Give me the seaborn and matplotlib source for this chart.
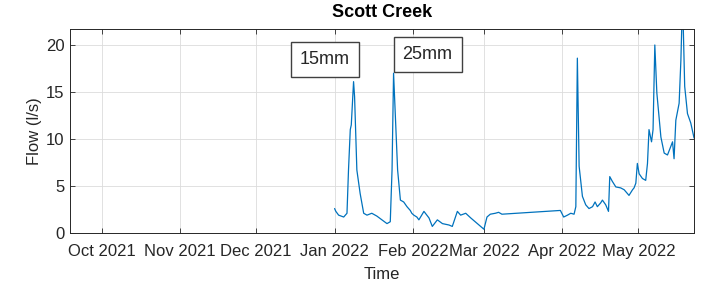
import pandas as pd
import numpy as np
import matplotlib
matplotlib.use('Agg')
import matplotlib.pyplot as plt
import matplotlib.dates as mdates
import seaborn as sns

# Flow record, days counted from 1 Jan 2022
day_offset = [0.0, 0.5, 1.6, 3.6, 4.9, 5.5, 6.2, 6.6, 7.5, 7.9, 8.8, 10.1, 11.5, 12.8,
              14.7, 16.7, 18.7, 20.7, 22.0, 22.7, 23.3, 23.8, 24.9, 26.0, 27.3, 28.6,
              29.9, 30.5, 31.3, 32.5, 33.3, 35.3, 37.3, 38.6, 40.6, 42.6, 45.2, 46.5,
              48.5, 49.8, 51.8, 53.8, 56.4, 59.0, 60.2, 61.5, 63.5, 64.8, 66.1, 89.2,
              90.5, 92.0, 93.3, 94.6, 95.3, 95.9, 96.6, 97.9, 99.2, 100.5, 101.9, 102.9,
              103.8, 105.1, 105.8, 107.1, 108.2, 108.7, 109.7, 111.1, 113.0, 114.4,
              116.3, 117.7, 118.3, 119.0, 119.6, 120.3, 121.6, 122.9, 123.6, 124.2,
              125.2, 125.8, 126.5, 127.3, 128.9, 130.2, 131.5, 132.8, 133.5, 134.1,
              134.8, 136.1, 136.8, 137.2, 137.7, 138.3, 139.4, 140.7, 142.0]
flow = [2.6, 2.3, 1.9, 1.7, 2.1, 6.7, 11.0, 11.5, 16.1, 14.5, 6.7, 4.2, 2.1, 1.9,
        2.1, 1.8, 1.4, 1.0, 1.2, 6.7, 17.0, 13.8, 6.7, 3.5, 3.3, 2.8,
        2.4, 2.1, 1.9, 1.7, 1.4, 2.3, 1.6, 0.7, 1.4, 1.0, 0.85, 0.7,
        2.3, 1.9, 2.1, 1.6, 1.0, 0.4, 1.7, 2.0, 2.1, 2.2, 2.0, 2.4,
        1.7, 1.9, 2.1, 2.0, 2.8, 18.6, 7.1, 3.9, 3.0, 2.6, 2.8, 3.3,
        2.8, 3.2, 3.5, 3.0, 2.3, 6.0, 5.5, 4.9, 4.8, 4.6,
        4.0, 4.6, 4.8, 5.3, 7.4, 6.3, 5.8, 5.6, 7.4, 11.0,
        9.7, 11.0, 20.0, 14.9, 10.2, 8.5, 8.3, 9.2, 9.7, 7.9,
        12.0, 13.8, 18.4, 22.5, 22.3, 15.6, 12.7, 11.7, 10.1]

rain_labels = ['15mm', '25mm']

df = pd.DataFrame({
    'Time': pd.Timestamp('2022-01-01') + pd.to_timedelta(day_offset, unit='D'),
    'Flow': flow,
})

sns.set_theme(style='ticks')
plt.rcParams['font.family'] = ['Liberation Sans', 'DejaVu Sans']
text_col = '#262626'

fig = plt.figure(figsize=(7.01, 2.86), dpi=100)
ax = fig.add_axes([0.0999, 0.1853, 0.8902, 0.7133])

sns.lineplot(data=df, x='Time', y='Flow', ax=ax, color='#0072BD',
             linewidth=0.9, estimator=None)

ax.set_xlim(pd.Timestamp('2021-09-18 12:00'), df['Time'].iloc[-1])
ax.set_ylim(0, 21.7)
ax.set_yticks([0, 5, 10, 15, 20])
ax.xaxis.set_major_locator(mdates.MonthLocator())
ax.xaxis.set_major_formatter(mdates.DateFormatter('%b %Y'))

ax.grid(True, color='#dcdcdc', linewidth=0.6)
ax.tick_params(direction='in', length=3.5, width=0.6, top=True, right=True,
               labelsize=12, colors=text_col)
ax.tick_params(axis='x', pad=8)
ax.tick_params(axis='y', pad=4)
for s in ax.spines.values():
    s.set_visible(True)
    s.set_linewidth(0.7)
    s.set_color(text_col)

ax.set_title('Scott Creek', fontsize=13, fontweight='bold', color='black', pad=9)
ax.set_xlabel('Time', fontsize=12, color=text_col, labelpad=6)
ax.set_ylabel('Flow (l/s)', fontsize=12, color=text_col, labelpad=3)

box = dict(boxstyle='square,pad=0.5', facecolor='white', edgecolor='#404040', linewidth=1.0)
ax.text(0.4087, 0.850, rain_labels[0], transform=ax.transAxes, ha='center', va='center',
        fontsize=13, color=text_col, bbox=box)
ax.text(0.573, 0.876, rain_labels[1], transform=ax.transAxes, ha='center', va='center',
        fontsize=13, color=text_col, bbox=box)

fig.savefig('out.png', dpi=100)
